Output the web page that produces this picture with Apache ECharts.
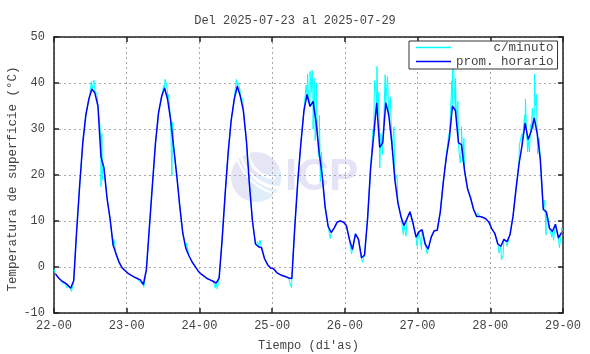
<!DOCTYPE html>
<html>
<head>
<meta charset="utf-8">
<script src="https://cdn.jsdelivr.net/npm/echarts@6/dist/echarts.min.js"></script>
<style>
html, body { margin: 0; padding: 0; background: #fff; }
#main { width: 590px; height: 354px; }
</style>
</head>
<body>
<div id="main"></div>
<script>
// tick labels on the time axis (one per day, hours 0, 24, 48 ...)
var dayTicks = ['22-00', '23-00', '24-00', '25-00', '26-00', '27-00', '28-00', '29-00'];

// hourly means (prom. horario), 24 values per day, drawn at the middle of each hour
var hourly22 = [-1.5, -2.4, -3.0, -3.4, -3.9, -4.6, -3.0, 8.1, 18, 27, 33, 36.5, 38.7, 37.8, 35, 24, 21.5, 15, 10.5, 4.8, 2.8, 1.0, -0.2, -0.8];
var hourly23 = [-1.4, -1.8, -2.2, -2.5, -2.8, -3.8, -0.5, 8.8, 18, 27, 33.5, 37, 38.9, 36.4, 32, 26, 20, 13.3, 7.4, 4.1, 2.5, 1.2, 0.2, -0.8];
var hourly24 = [-1.5, -2.0, -2.5, -2.8, -3.1, -3.5, -2.4, 6, 16, 25, 32, 36.5, 39.3, 37.1, 34, 27.5, 18, 10, 5, 4.4, 4.2, 1.8, 0.5, -0.2];
var hourly25 = [-0.4, -1.2, -1.6, -1.9, -2.1, -2.4, -2.5, 9, 19, 27, 34, 37.5, 34.9, 36, 31.5, 25, 20, 13, 8.8, 7.5, 8.5, 9.8, 10, 9.8];
var hourly26 = [9, 6, 3.8, 7.2, 6, 2, 2.6, 10.5, 21.5, 28.5, 35.7, 26, 27, 35.7, 33, 27, 19, 14, 11, 9, 10.5, 12, 9.5, 6.5];
var hourly27 = [7.7, 8.1, 5, 3.9, 6.5, 7.9, 8, 12, 18.5, 24, 28, 35, 34, 27, 26.6, 21, 17, 15, 12.5, 11, 11, 10.8, 10.5, 9.8];
var hourly28 = [8.3, 7.3, 5, 4.5, 6, 5.5, 7, 11, 17, 22.5, 26.5, 31.3, 27.7, 29.5, 32.4, 29, 23.5, 12.5, 12, 8.5, 7.7, 9.3, 6.3, 7.5];

// per-minute readings that stand out from the hourly mean: [hour since 22-00, value]
var minuteSpikes = [
    [0, -0.5], [0.2, -0.3], [2.8, -3.6], [4.3, -4.6], [5.7, -5.3], [6.2, -4.2],
    [11.8, 37.5], [12.3, 40.3], [12.8, 39.5], [13.2, 40.6], [13.6, 38.3], [14.2, 37.6],
    [15.2, 30.5], [15.5, 17.5], [15.8, 29], [16.0, 19], [16.3, 22.5],
    [19.8, 6], [20.2, 4.2],
    [28.2, -3.2], [29.6, -4.4],
    [36.2, 39.5], [36.6, 40.8], [37.0, 40], [37.4, 38.5], [37.8, 37.5],
    [38.7, 32], [38.9, 19.8], [39.2, 31.5],
    [43.8, 5.2],
    [53.2, -4.5], [53.9, -4.8],
    [59.8, 38.5], [60.2, 40.8], [60.7, 40], [61.0, 39.5], [61.4, 38.5], [62.3, 36.5],
    [67.3, 5.5], [68.0, 5.8],
    [78.0, -3.9], [78.4, -4.5],
    [83.2, 39.5], [83.7, 42], [84.1, 36], [84.5, 42.5], [84.9, 38], [85.2, 42.8], [85.5, 30],
    [85.9, 41], [86.2, 27.5], [86.6, 40], [86.9, 31], [87.3, 24], [87.6, 33], [87.9, 18.5], [88.3, 25],
    [91.2, 6.2], [98.2, 2.8], [101.8, 1.0], [102.3, 1.2],
    [105.3, 30], [105.8, 40.5], [106.3, 38], [106.6, 43.6], [106.9, 33], [107.2, 38], [107.5, 21.5],
    [107.9, 29], [108.4, 24.5], [108.9, 33], [109.3, 41.8], [109.7, 38], [110.1, 41.4], [110.5, 34],
    [111.0, 37], [111.4, 29], [111.6, 25.5], [112.2, 30.5], [112.7, 19], [113.2, 20],
    [115.3, 7], [116.2, 6.7], [119.8, 4.5], [121.3, 3.8], [123.2, 2.8],
    [130.3, 29], [130.9, 34], [131.3, 40.5], [131.6, 48.2], [131.9, 43.5], [132.2, 37.5], [132.5, 41],
    [132.9, 30.5], [133.3, 36], [133.7, 25], [134.1, 22.6], [134.5, 30.5], [134.9, 23], [135.3, 28], [135.7, 20],
    [139.8, 11.8],
    [146.9, 3], [147.7, 1.6], [148.2, 2.5], [149.5, 4.5],
    [153.6, 26.5], [154.4, 29], [155.3, 33], [155.6, 36.5], [156.0, 29], [156.3, 25], [156.9, 25],
    [157.4, 31], [157.9, 34.5], [158.3, 30], [158.6, 42], [158.9, 35], [159.2, 37.5], [159.6, 24.5], [160.1, 28],
    [162.0, 14.5], [162.4, 7], [163.3, 10], [164.3, 6.5], [164.9, 5.8], [166.2, 7.5], [166.8, 4.2],
    [167.5, 8.5], [168, 8]
];

var chartDom = document.getElementById('main');
var myChart = echarts.init(chartDom);
var option;

var hourly = [].concat(hourly22, hourly23, hourly24, hourly25, hourly26, hourly27, hourly28);
var hourlyData = hourly.map(function (v, i) { return [i + 0.5, v]; });
var minuteData = hourlyData.concat(minuteSpikes).sort(function (a, b) { return a[0] - b[0]; });

var mono = 'Liberation Mono';
var frame = '#222';
var textCol = '#444';

option = {
    animation: false,
    backgroundColor: '#fff',
    title: {
        text: 'Del 2025-07-23 al 2025-07-29',
        left: 'center',
        top: 10,
        textStyle: { fontFamily: mono, fontSize: 12, fontWeight: 'normal', color: textCol }
    },
    legend: {
        left: 409,
        top: 41,
        orient: 'vertical',
        padding: [0, 4, 1, 7],
        itemGap: 1,
        itemWidth: 35,
        itemHeight: 1.5,
        icon: 'rect',
        backgroundColor: '#fff',
        borderColor: '#333',
        borderWidth: 1,
        borderRadius: 0,
        formatter: function (name) {
            while (name.length < 13) name = ' ' + name;
            return name;
        },
        textStyle: { fontFamily: mono, fontSize: 12.5, lineHeight: 12, color: textCol },
        data: ['c/minuto', 'prom. horario']
    },
    graphic: [
        { type: 'circle', z: -10, shape: { cx: 256, cy: 177, r: 25 }, style: { fill: '#e5e5f6' } },
        { type: 'sector', z: -10, shape: { cx: 256, cy: 177, r: 25, r0: 0, startAngle: -0.3, endAngle: 1.9 }, style: { fill: '#dfeefa' } },
        { type: 'arc', z: -9, shape: { cx: 276, cy: 150, r: 28, startAngle: 1.6, endAngle: 3.2 }, style: { stroke: '#fff', lineWidth: 3, fill: null } },
        { type: 'arc', z: -9, shape: { cx: 282, cy: 146, r: 42, startAngle: 1.6, endAngle: 3.0 }, style: { stroke: '#fff', lineWidth: 3, fill: null } },
        { type: 'arc', z: -9, shape: { cx: 290, cy: 140, r: 56, startAngle: 1.7, endAngle: 2.9 }, style: { stroke: '#fff', lineWidth: 2, fill: null } },
        {
            type: 'text', z: -10, x: 285, y: 178,
            style: { text: 'ICP', font: 'bold 44px "Liberation Sans"', fill: '#e4e4f6', verticalAlign: 'middle' }
        },
        {
            // y axis title
            type: 'text', x: 13, y: 179, rotation: Math.PI / 2,
            style: {
                text: 'Temperatura de superficie (°C)',
                font: '12.5px "Liberation Mono"', fill: textCol,
                align: 'center', verticalAlign: 'middle'
            }
        }
    ],
    grid: { left: 54, right: 27, top: 37, bottom: 41, outerBoundsMode: 'none', containLabel: false },
    xAxis: [
        {
            type: 'value',
            min: 0,
            max: 168,
            interval: 24,
            name: "Tiempo (di'as)",
            nameLocation: 'middle',
            nameGap: 27,
            nameTextStyle: { fontFamily: mono, fontSize: 12, color: textCol },
            axisLine: { show: true, onZero: false, lineStyle: { color: frame, width: 1.5 } },
            axisTick: { show: true, inside: true, length: 5, lineStyle: { color: frame, width: 1.5 } },
            axisLabel: {
                fontFamily: mono, fontSize: 12, color: textCol, margin: 7,
                formatter: function (v) { return dayTicks[Math.round(v / 24)]; }
            },
            splitLine: { show: true, lineStyle: { color: '#aaa', type: [2, 3], width: 1 } }
        },
        {
            type: 'value',
            position: 'top',
            min: 0,
            max: 168,
            interval: 24,
            axisLine: { show: true, onZero: false, lineStyle: { color: frame, width: 1.5 } },
            axisTick: { show: true, inside: true, length: 5, lineStyle: { color: frame, width: 1.5 } },
            axisLabel: { show: false },
            splitLine: { show: false }
        }
    ],
    yAxis: [
        {
            type: 'value',
            min: -10,
            max: 50,
            interval: 10,
            axisLine: { show: true, onZero: false, lineStyle: { color: frame, width: 1.5 } },
            axisTick: { show: true, inside: true, length: 5, lineStyle: { color: frame, width: 1.5 } },
            axisLabel: { fontFamily: mono, fontSize: 12, color: textCol, margin: 9 },
            splitLine: { show: true, lineStyle: { color: '#aaa', type: [2, 3], width: 1 } }
        },
        {
            type: 'value',
            position: 'right',
            min: -10,
            max: 50,
            interval: 10,
            axisLine: { show: true, onZero: false, lineStyle: { color: frame, width: 1.5 } },
            axisTick: { show: true, inside: true, length: 5, lineStyle: { color: frame, width: 1.5 } },
            axisLabel: { show: false },
            splitLine: { show: false }
        }
    ],
    series: [
        {
            name: 'c/minuto',
            type: 'line',
            symbol: 'none',
            color: '#00ffff',
            lineStyle: { color: '#00ffff', width: 1 },
            data: minuteData,
            z: 3
        },
        {
            name: 'prom. horario',
            type: 'line',
            symbol: 'none',
            color: '#0000ff',
            lineStyle: { color: '#0000ff', width: 1.5 },
            data: hourlyData,
            z: 4
        }
    ]
};

option && myChart.setOption(option);
</script>
</body>
</html>
